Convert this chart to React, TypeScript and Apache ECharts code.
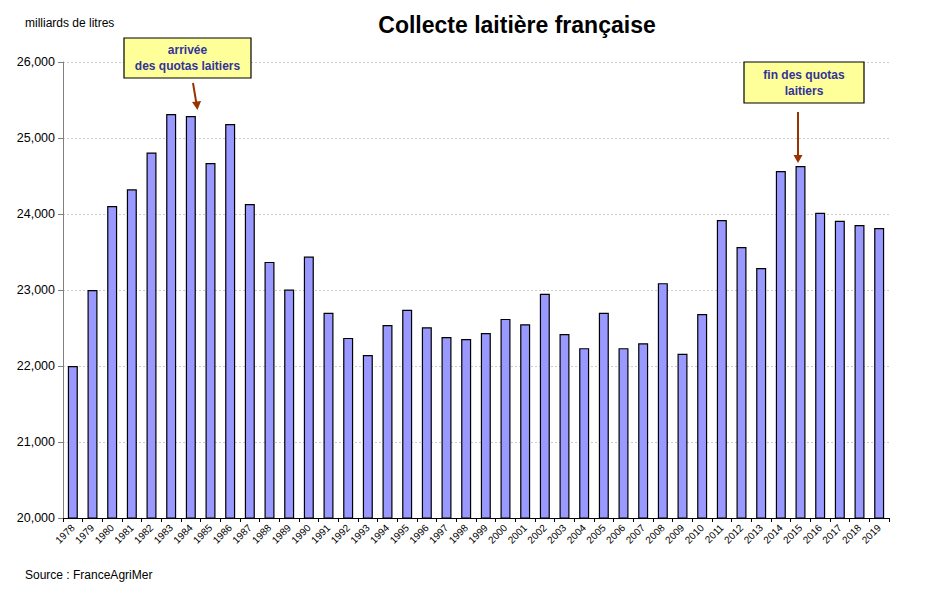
import React, { useEffect, useRef } from "react";
import * as echarts from "echarts";

const years = [
  "1978","1979","1980","1981","1982","1983","1984","1985","1986","1987","1988","1989","1990",
  "1991","1992","1993","1994","1995","1996","1997","1998","1999","2000","2001","2002","2003",
  "2004","2005","2006","2007","2008","2009","2010","2011","2012","2013","2014","2015","2016",
  "2017","2018","2019",
];
const collecte = [
  22000, 23000, 24105, 24325, 24810, 25315, 25290, 24670, 25185, 24130, 23370, 23005, 23440,
  22700, 22370, 22145, 22540, 22740, 22510, 22380, 22355, 22435, 22620, 22550, 22950, 22420,
  22235, 22700, 22235, 22300, 23090, 22160, 22685, 23920, 23565, 23290, 24565, 24630, 24015,
  23910, 23855, 23815,
];
const yTicks = { min: 20000, max: 26000, interval: 1000 };

const FONT = "'Liberation Sans', Arial, sans-serif";

export default function App() {
  const ref = useRef<HTMLDivElement>(null);
  useEffect(() => {
    if (!ref.current) return;
    const chart = echarts.init(ref.current, null, { renderer: "svg" });
    const arrowColor = "#993300";
    const boxText = "#333399";
    chart.setOption({
      animation: false,
      backgroundColor: "#ffffff",
      title: {
        text: "Collecte laitière française",
        left: 512,
        top: 8,
        textAlign: "center",
        textStyle: { fontFamily: FONT, fontSize: 23, fontWeight: "bold", color: "#000" },
      },
      grid: { left: 63, right: 40, top: 62, bottom: 77, containLabel: false },
      xAxis: {
        type: "category",
        data: years,
        axisLine: { lineStyle: { color: "#000", width: 1 } },
        axisTick: { show: true, alignWithLabel: false, lineStyle: { color: "#000" }, length: 4 },
        axisLabel: {
          rotate: 45,
          fontFamily: FONT,
          fontSize: 10,
          color: "#000",
          interval: 0,
          margin: 8,
        },
      },
      yAxis: {
        type: "value",
        min: yTicks.min,
        max: yTicks.max,
        interval: yTicks.interval,
        name: "milliards de litres",
        nameLocation: "end",
        nameGap: 0,
        nameTextStyle: {
          fontFamily: FONT,
          fontSize: 12,
          color: "#000",
          align: "left",
          padding: [0, 0, 33, -38],
        },
        axisLine: { show: true, lineStyle: { color: "#808080" } },
        axisTick: { show: true, length: 5, lineStyle: { color: "#808080" } },
        axisLabel: {
          fontFamily: FONT,
          fontSize: 12.5,
          color: "#000",
          margin: 8,
          formatter: (v: number) => v.toLocaleString("en-US"),
        },
        splitLine: { show: true, lineStyle: { color: "#cccccc", type: [2, 2], width: 1 } },
      },
      series: [
        {
          type: "bar",
          data: collecte,
          barWidth: 10,
          itemStyle: { color: "#9999ff", borderColor: "#000", borderWidth: 1.2 },
        },
      ],
      graphic: [
        {
          type: "rect",
          shape: { x: 124, y: 38, width: 127, height: 40 },
          style: { fill: "#ffff99", stroke: "#000", lineWidth: 1.2 },
          z: 10,
        },
        {
          type: "text",
          x: 187.5,
          y: 58,
          style: {
            text: "arrivée\ndes quotas laitiers",
            fontFamily: FONT,
            fontSize: 12,
            fontWeight: "bold",
            fill: boxText,
            align: "center",
            verticalAlign: "middle",
            lineHeight: 16,
          },
          z: 11,
        },
        {
          type: "line",
          shape: { x1: 193, y1: 83, x2: 196.5, y2: 104 },
          style: { stroke: arrowColor, lineWidth: 2 },
          z: 10,
        },
        {
          type: "polygon",
          shape: { points: [[192, 102], [201, 101], [197.5, 110]] },
          style: { fill: arrowColor },
          z: 10,
        },
        {
          type: "rect",
          shape: { x: 744, y: 62, width: 120, height: 41 },
          style: { fill: "#ffff99", stroke: "#000", lineWidth: 1.2 },
          z: 10,
        },
        {
          type: "text",
          x: 804,
          y: 83,
          style: {
            text: "fin des quotas\nlaitiers",
            fontFamily: FONT,
            fontSize: 12,
            fontWeight: "bold",
            fill: boxText,
            align: "center",
            verticalAlign: "middle",
            lineHeight: 16,
          },
          z: 11,
        },
        {
          type: "line",
          shape: { x1: 798, y1: 112, x2: 798, y2: 157 },
          style: { stroke: arrowColor, lineWidth: 2 },
          z: 10,
        },
        {
          type: "polygon",
          shape: { points: [[793.5, 155], [802.5, 155], [798, 163]] },
          style: { fill: arrowColor },
          z: 10,
        },
        {
          type: "text",
          x: 25,
          y: 569,
          style: {
            text: "Source : FranceAgriMer",
            fontFamily: FONT,
            fontSize: 12,
            fill: "#000",
          },
        },
      ],
    });
    return () => chart.dispose();
  }, []);
  return <div ref={ref} style={{ width: 929, height: 595, position: "absolute", left: 0, top: 0 }} />;
}
